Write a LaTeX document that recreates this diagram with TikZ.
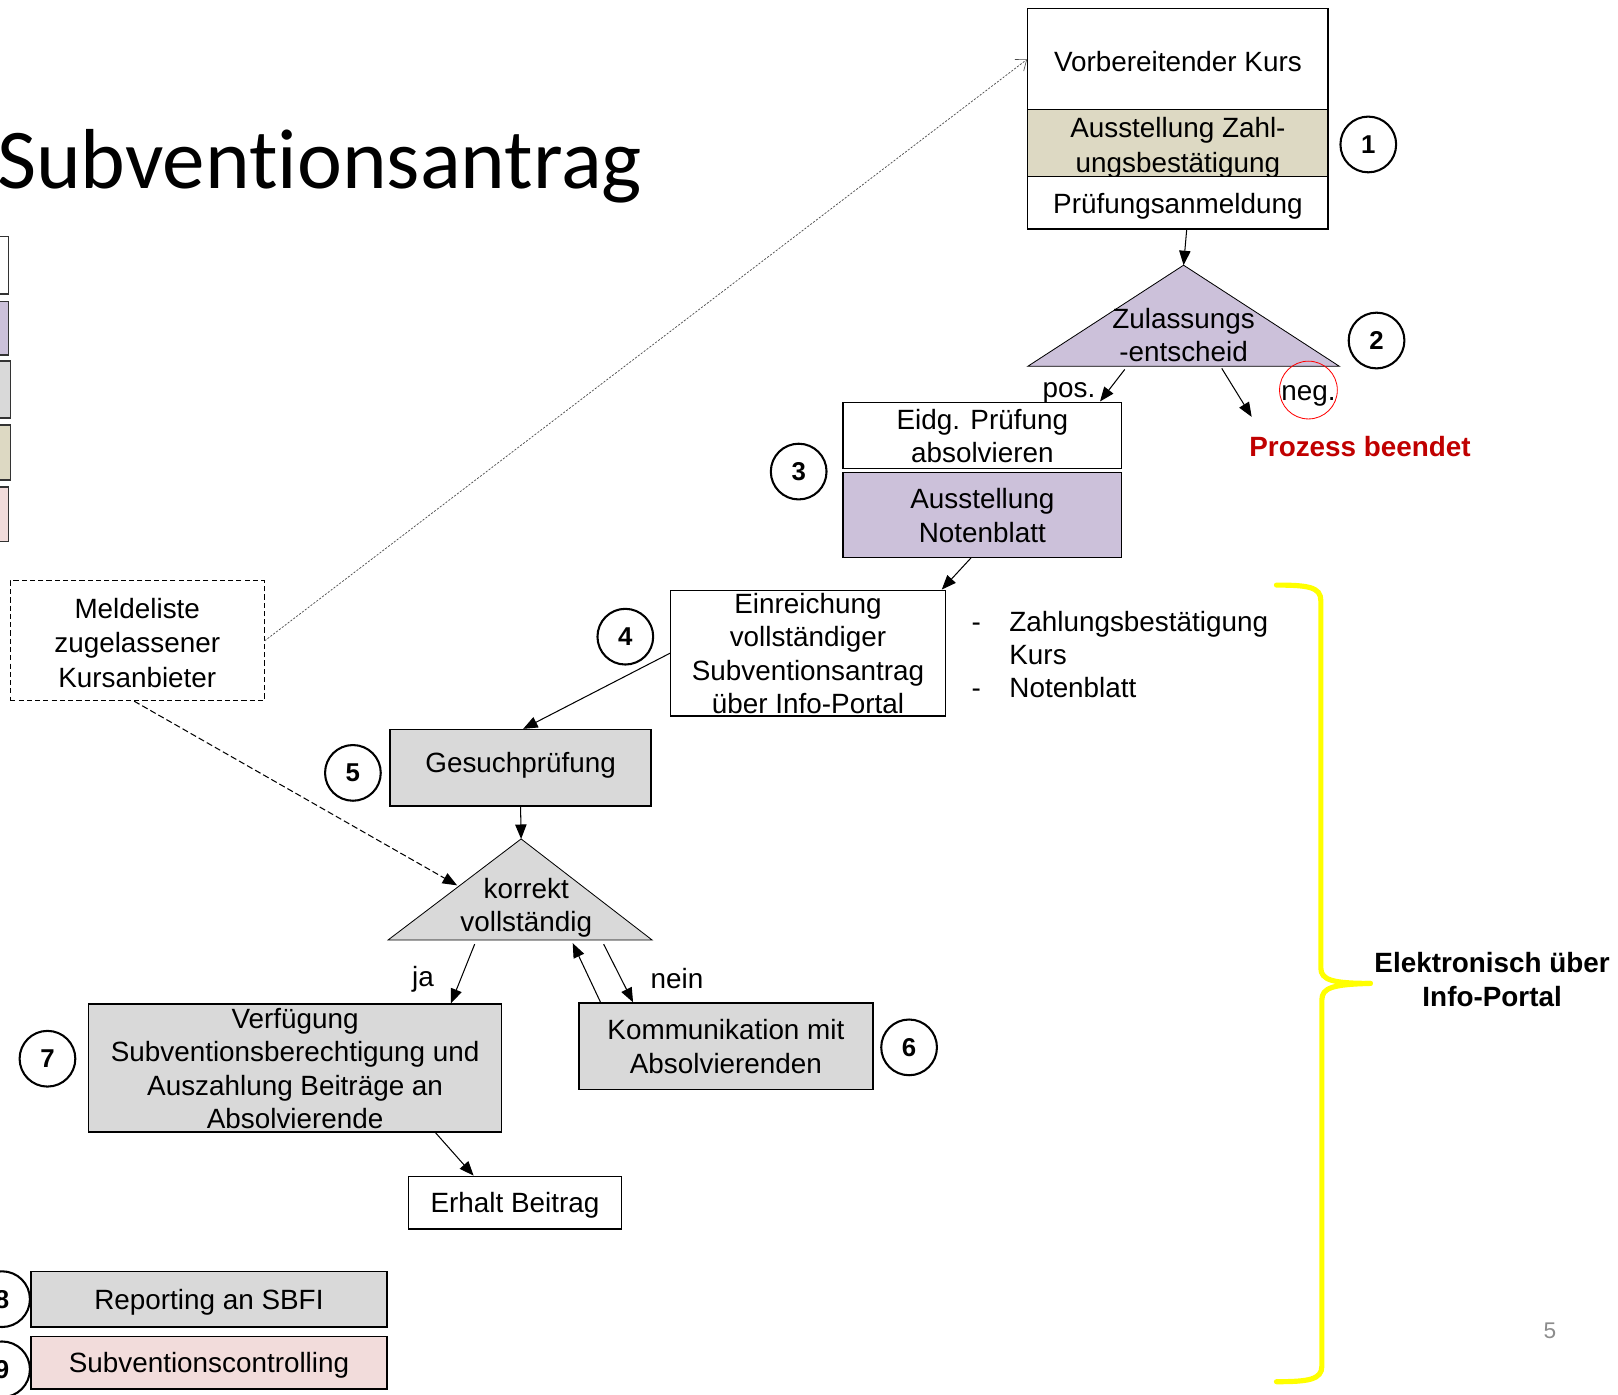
\documentclass[tikz,border=0pt]{standalone}
\usepackage{fontspec}
\setmainfont{Liberation Sans}
\newfontfamily\titlefont[Ligatures=NoCommon]{Carlito}
\usetikzlibrary{arrows.meta}

\definecolor{lila}{HTML}{CCC1DA}
\definecolor{grau}{HTML}{D9D9D9}
\definecolor{khaki}{HTML}{DDD9C3}
\definecolor{rosa}{HTML}{F2DCDB}
\definecolor{rot}{HTML}{C00000}
\definecolor{gelb}{HTML}{FFFF00}
\definecolor{seitengrau}{HTML}{8C8C8C}
\newcommand\mys{\rule[-6pt]{0pt}{32pt}}

\begin{document}
\begin{tikzpicture}[x=1pt,y=-1pt,
  box/.style={draw=black, line width=1.3pt, inner sep=0pt, align=center, font=\fontsize{27}{32.5}\selectfont},
  num/.style={circle, draw=black, line width=2pt, minimum size=54pt, inner sep=0pt, font=\bfseries\fontsize{25}{25}\selectfont},
  arr/.style={line width=1pt, -{Triangle[length=14pt,width=11pt]}},
  lbl/.style={font=\fontsize{27}{32.5}\selectfont, inner sep=0pt, align=center},
  tri/.style={draw=black, line width=0.8pt},
  legend/.style={draw=black!80, line width=1.3pt},
]
\useasboundingbox (0,0) rectangle (1568,1351);

% title
\node[anchor=base west, inner sep=0pt, font=\titlefont\fontsize{82.5}{82.5}\selectfont] (title) at (-3,183) {Subventionsantrag};

% legend boxes (cut at left edge)
\draw[legend, fill=white] (-30,229) rectangle (8,285);
\draw[legend, fill=lila]  (-30,292) rectangle (8,344);
\draw[legend, fill=grau]  (-30,350) rectangle (10,405);
\draw[legend, fill=khaki] (-30,412) rectangle (10,465);
\draw[legend, fill=rosa]  (-30,472) rectangle (8,525);

% top block
\node[box, fill=white, minimum width=291pt, minimum height=99pt] (vk) at (1141.5,57.5) {\mys\raisebox{-2pt}{Vorbereitender Kurs}};
\node[box, fill=khaki, minimum width=291pt, minimum height=64pt, inner ysep=-1pt] (az) at (1141.5,139) {\mys\raisebox{-2pt}{Ausstellung Zahl-}\\\raisebox{-1pt}{ungsbestätigung}\mys};
\node[box, fill=white, minimum width=291pt, minimum height=51pt] (pa) at (1141.5,196.5) {\mys Prüfungsanmeldung};
\node[num] (c1) at (1326,140) {1};

% decision 1
\coordinate (zA) at (1147,257);
\coordinate (zB) at (996,355);
\coordinate (zC) at (1298,355);
\draw[tri, fill=lila] (zA) -- (zB) -- (zC) -- cycle;
\node[lbl] (zt) at (1147,324.5) {\mys Zulassungs\\-entscheid\mys};
\node[num] (c2) at (1334,330) {2};
\node[lbl] (pos) at (1036,375) {\mys pos.};
\node[circle, draw=red, line width=0.8pt, minimum size=56pt, inner sep=0pt] (negc) at (1268,378) {};
\node[lbl] (neg) at (1268,378) {\mys neg.};
\node[lbl, font=\bfseries\fontsize{27}{32.5}\selectfont, text=rot] (pb) at (1318,432) {\mys Prozess beendet};

% step 3
\node[box, fill=white, minimum width=270pt, minimum height=60pt] (ep) at (952,422) {\mys Eidg. Prüfung\\absolvieren\mys};
\node[box, fill=lila, minimum width=270pt, minimum height=82pt] (nb) at (952,499) {\mys Ausstellung\\Notenblatt\mys};
\node[num] (c3) at (774,457) {3};

% step 4
\node[box, fill=white, minimum width=266pt, minimum height=122pt, inner ysep=-4pt] (er) at (783,633) {\mys Einreichung\\vollständiger\\Subventionsantrag\\über Info-Portal\mys};
\node[num] (c4) at (606,617) {4};
\node[lbl] (d1) at (946,602) {\mys -};
\node[lbl, anchor=west] (l1) at (978,602) {\mys Zahlungsbestätigung};
\node[lbl, anchor=west] (l2) at (978,634) {\mys Kurs};
\node[lbl] (d2) at (946,666) {\mys -};
\node[lbl, anchor=west] (l3) at (978,666) {\mys Notenblatt};

% step 5
\node[box, fill=grau, minimum width=253pt, minimum height=74pt] (gp) at (504.5,744) {\mys\raisebox{5pt}{Gesuchprüfung}};
\node[num] (c5) at (342,749) {5};

% Meldeliste
\node[box, fill=white, dash pattern=on 5pt off 3pt, line width=1pt, minimum width=246pt, minimum height=116pt] (ml) at (133,621) {\mys\raisebox{-2pt}{Meldeliste}\\\raisebox{-2pt}{zugelassener}\\\raisebox{-2pt}{Kursanbieter}\mys};

% decision 2
\coordinate (kA) at (505,813);
\coordinate (kB) at (376,911);
\coordinate (kC) at (632,911);
\draw[tri, fill=grau] (kA) -- (kB) -- (kC) -- cycle;
\node[lbl] (kt) at (510,876.5) {\mys korrekt\\vollständig\mys};
\node[lbl] (ja) at (410,946) {\mys ja};
\node[lbl] (nein) at (656,948) {\mys nein};

% step 7 and 6
\node[box, fill=grau, minimum width=400pt, minimum height=124pt, inner ysep=-3pt] (vf) at (286,1035) {\mys Verfügung\\Subventionsberechtigung und\\Auszahlung Beiträge an\\Absolvierende\mys};
\node[num] (c7) at (46,1026) {7};
\node[box, fill=grau, minimum width=285pt, minimum height=84pt] (km) at (703.5,1014) {\mys Kommunikation mit\\Absolvierenden\mys};
\node[num] (c6) at (881,1015) {6};
\node[box, fill=white, minimum width=206pt, minimum height=51pt] (eb) at (499,1165.5) {\mys Erhalt Beitrag};

% step 8 and 9
\node[box, fill=grau, minimum width=345pt, minimum height=54pt] (rp) at (202.5,1259) {\mys Reporting an SBFI};
\node[box, fill=rosa, minimum width=345pt, minimum height=51pt] (sc) at (202.5,1320.5) {\mys Subventionscontrolling};
\node[num] (c8) at (2,1259) {8};
\node[num] (c9) at (2,1327) {9};

% connectors
\coordinate (zpos) at (1090,358);
\coordinate (zneg) at (1184,357);
\coordinate (negend) at (1213,404);
\coordinate (kleft) at (443,858);
\coordinate (kja) at (460,915);
\coordinate (knein) at (585,915);
\coordinate (kback) at (555,914);

\draw[arr] ([xshift=8.5pt]pa.south) -- (zA);
\draw[arr] (zpos) -- ([xshift=114pt]ep.north);
\draw[arr] (zneg) -- (negend);
\draw[arr] ([xshift=-11pt]nb.south) -- ([xshift=-4pt]er.north east);
\draw[arr] (er.west) -- ([xshift=2.5pt]gp.north);
\draw[arr] (gp.south) -- (kA);
\draw[arr, dash pattern=on 6pt off 3pt] ([xshift=-3pt]ml.south) -- (kleft);
\draw[arr] (kja) -- ([xshift=151pt]vf.north);
\draw[arr] (knein) -- ([xshift=-90pt]km.north);
\draw[arr] ([xshift=-121.5pt]km.north) -- (kback);
\draw[arr] ([xshift=136pt]vf.south) -- ([xshift=-40pt]eb.north);
\draw[black!70, line width=0.7pt, dash pattern=on 2pt off 1.5pt, -{Straight Barb[length=9pt,width=14pt,line width=0.6pt]}] (ml.east) -- (vk.west);

% yellow brace
\draw[gelb, line width=5pt, line cap=round] (1237,567) .. controls (1268,567) and (1280,569) .. (1280,582) -- (1280,938) .. controls (1280,950) and (1292,953) .. (1328,953);
\draw[gelb, line width=5pt, line cap=round] (1328,953) .. controls (1292,954) and (1281,957) .. (1281,969) -- (1281,1324) .. controls (1281,1337) and (1268,1339) .. (1237,1339);
\node[lbl, font=\bfseries\fontsize{27}{32.5}\selectfont] (el) at (1446,949) {\mys Elektronisch über\\Info-Portal\mys};

% page number
\node[inner sep=0pt, font=\fontsize{22}{22}\selectfont, text=seitengrau] (pg) at (1502,1290) {5};
\end{tikzpicture}
\end{document}
